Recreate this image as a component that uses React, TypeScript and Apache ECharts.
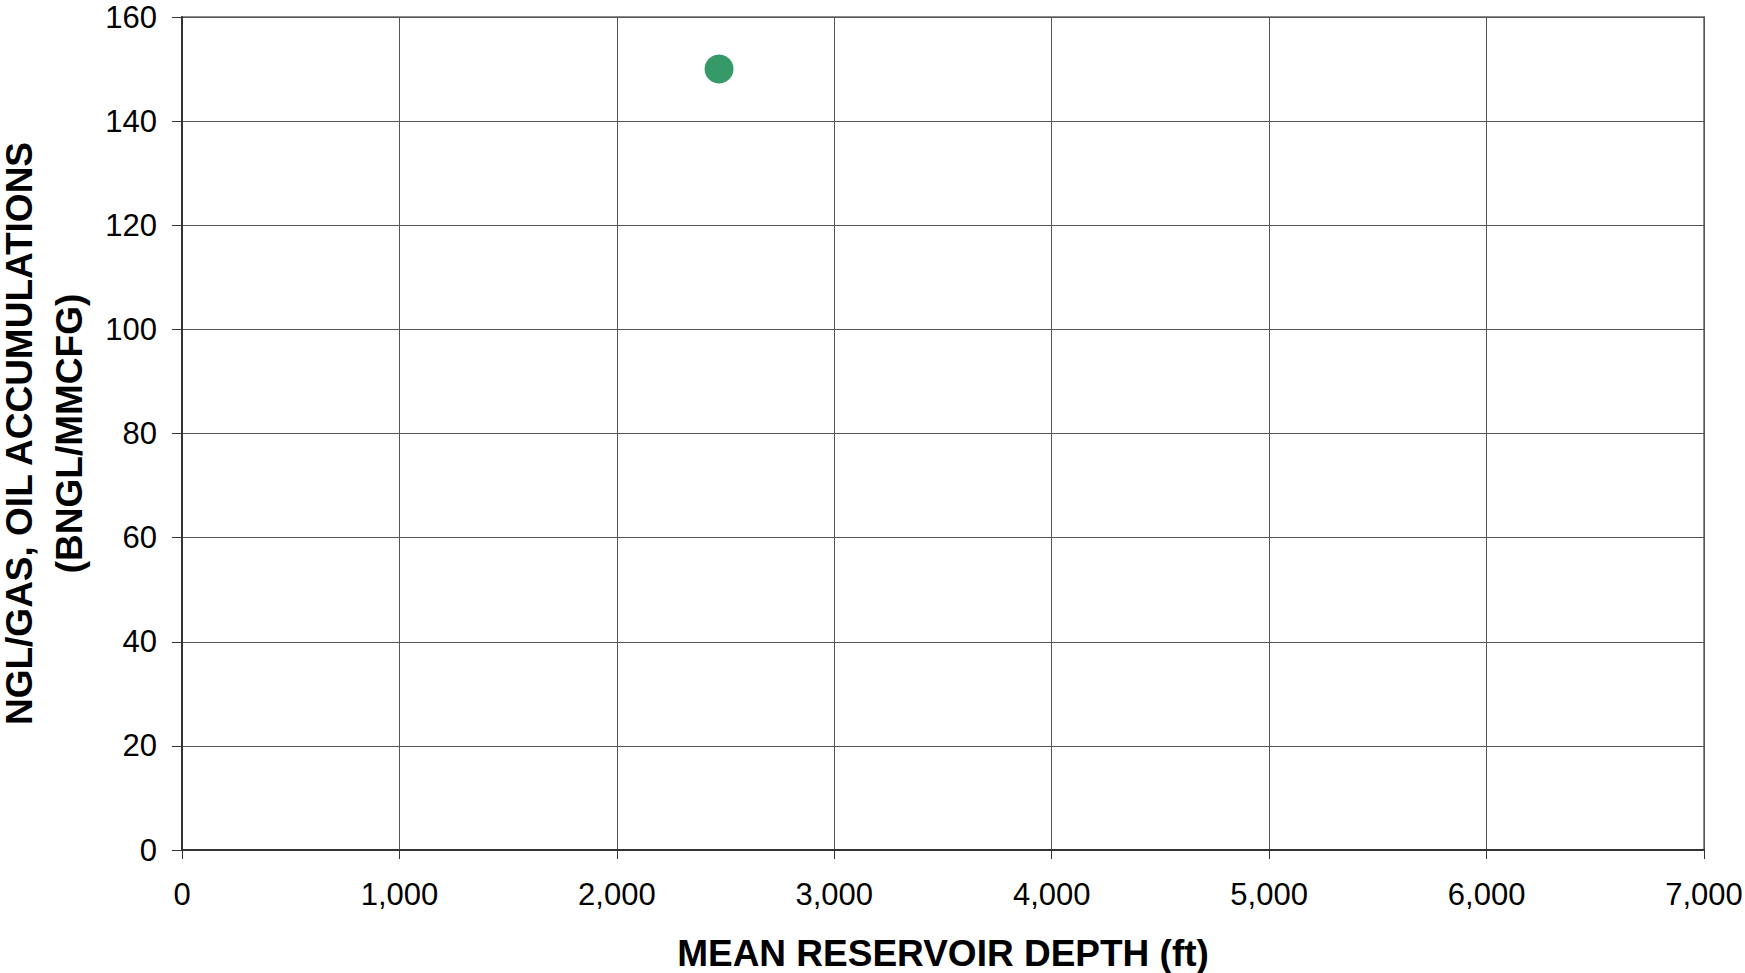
import React, { useEffect, useRef } from "react";
import * as echarts from "echarts";

const depthFt = [2470];
const ratio = [150];
const xTicks = { min: 0, max: 7000, interval: 1000 };
const yTicks = { min: 0, max: 160, interval: 20 };

export default function App() {
  const ref = useRef<HTMLDivElement>(null);
  useEffect(() => {
    if (!ref.current) return;
    const chart = echarts.init(ref.current, null, { renderer: "svg" });
    const font = "'Liberation Sans', Arial, sans-serif";
    chart.setOption({
      animation: false,
      backgroundColor: "#ffffff",
      grid: {
        left: 182,
        right: 41,
        top: 17,
        bottom: 123,
        show: true,
        borderColor: "#8c8c8c",
        borderWidth: 2,
        containLabel: false,
        outerBoundsMode: "none",
      },
      xAxis: {
        type: "value",
        min: xTicks.min,
        max: xTicks.max,
        interval: xTicks.interval,
        name: "MEAN RESERVOIR DEPTH (ft)",
        nameLocation: "middle",
        nameGap: 85,
        nameTextStyle: { fontFamily: font, fontWeight: "bold", fontSize: 37, color: "#000" },
        axisLine: { show: true, onZero: false, lineStyle: { color: "#333", width: 2 } },
        axisTick: { show: true, length: 9, lineStyle: { color: "#333", width: 1 } },
        axisLabel: {
          fontFamily: font,
          fontSize: 31,
          color: "#000",
          margin: 29,
          formatter: (v: number) => v.toLocaleString("en-US"),
        },
        splitLine: { show: true, lineStyle: { color: "#555", width: 1 } },
      },
      yAxis: {
        type: "value",
        min: yTicks.min,
        max: yTicks.max,
        interval: yTicks.interval,
        name: "NGL/GAS, OIL ACCUMULATIONS\n(BNGL/MMCFG)",
        nameLocation: "middle",
        nameRotate: 90,
        nameGap: 87,
        nameTextStyle: { fontFamily: font, fontWeight: "bold", fontSize: 37, color: "#000", lineHeight: 50 },
        axisLine: { show: true, onZero: false, lineStyle: { color: "#333", width: 2 } },
        axisTick: { show: true, length: 10, lineStyle: { color: "#333", width: 1 } },
        axisLabel: {
          fontFamily: font,
          fontSize: 31,
          color: "#000",
          margin: 25,
        },
        splitLine: { show: true, lineStyle: { color: "#555", width: 1 } },
      },
      series: [
        {
          type: "scatter",
          data: depthFt.map((d, i) => [d, ratio[i]]),
          symbol: "circle",
          symbolSize: 29,
          itemStyle: { color: "#359a68", opacity: 1 },
        },
      ],
    });
    return () => chart.dispose();
  }, []);
  return (
    <div
      ref={ref}
      style={{ position: "fixed", left: 0, top: 0, width: 1745, height: 973 }}
    />
  );
}
